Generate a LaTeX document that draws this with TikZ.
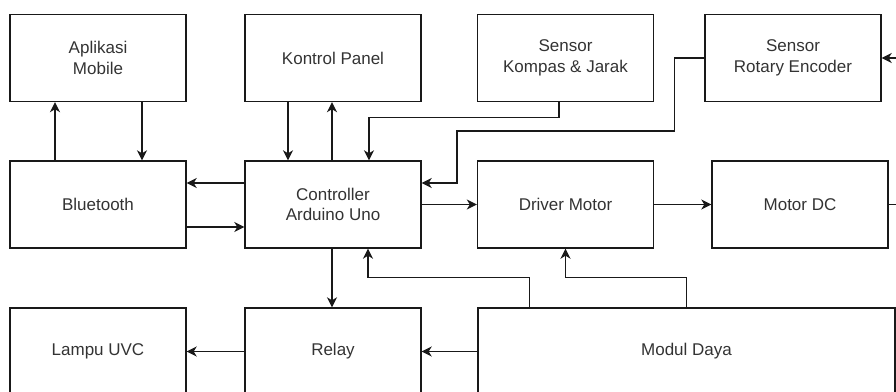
\documentclass[tikz,border=0pt]{standalone}
\usepackage{fontspec}
\setmainfont{Liberation Sans}
\usetikzlibrary{arrows.meta}
\begin{document}
\begin{tikzpicture}[x=1pt,y=-1pt,
  blk/.style={draw=black!90,line width=1.4pt,rectangle,minimum width=176pt,minimum height=87pt,
    align=center,inner sep=0pt,text=black!80,font=\fontsize{17}{20.5}\selectfont},
  con/.style={draw=black!90,line width=1.4pt},
  arr/.style={con,-{Stealth[length=10pt,width=10pt,inset=3pt]}}]
\useasboundingbox (0,0) rectangle (896,391);
\clip (0,0) rectangle (896,391);
% top row
\node[blk] (app) at (98,58) {Aplikasi\\Mobile};
\node[blk] (kp) at (333,58) {Kontrol Panel};
\node[blk] (skj) at (565.5,58) {Sensor\\Kompas \& Jarak};
\node[blk] (sre) at (793,58) {Sensor\\Rotary Encoder};
% middle row
\node[blk] (bt) at (98,204.5) {Bluetooth};
\node[blk] (ctl) at (333,204.5) {Controller\\Arduino Uno};
\node[blk] (drv) at (565.5,204.5) {Driver Motor};
\node[blk] (mdc) at (800,204.5) {Motor DC};
% bottom row
\node[blk] (lmp) at (98,351.5) {Lampu UVC};
\node[blk] (rly) at (333,351.5) {Relay};
\node[blk,minimum width=417pt] (mod) at (686.5,351.5) {Modul Daya};
% free ends
\coordinate (sreIn) at (896,58);
\coordinate (mdcOut) at (896,204.5);
% connectors
\draw[arr] ([xshift=-43pt]bt.north) -- ([xshift=-43pt]app.south);
\draw[arr] ([xshift=44pt]app.south) -- ([xshift=44pt]bt.north);
\draw[arr] ([yshift=21.5pt]ctl.west) -- ([yshift=21.5pt]bt.east);
\draw[arr] ([yshift=-22.5pt]bt.east) -- ([yshift=-22.5pt]ctl.west);
\draw[arr] ([xshift=-45pt]kp.south) -- ([xshift=-45pt]ctl.north);
\draw[arr] ([xshift=-1pt]ctl.north) -- ([xshift=-1pt]kp.south);
\draw[arr] ([xshift=-6.5pt]skj.south) -- ++(0,15) -| ([xshift=36pt]ctl.north);
\draw[arr] (sre.west) -- ++(-30,0) |- (457,131) |- ([yshift=21.5pt]ctl.east);
\draw[arr] (sreIn) -- (sre.east);
\draw[arr] (ctl.east) -- (drv.west);
\draw[arr] (drv.east) -- (mdc.west);
\draw[con] (mdc.east) -- (mdcOut);
\draw[arr] ([xshift=-1pt]ctl.south) -- ([xshift=-1pt]rly.north);
\draw[arr] ([xshift=52pt]mod.north west) -- ++(0,-30) -| ([xshift=35pt]ctl.south);
\draw[arr] ([xshift=209pt]mod.north west) -- ++(0,-30) -| (drv.south);
\draw[arr] (mod.west) -- (rly.east);
\draw[arr] (rly.west) -- (lmp.east);
\end{tikzpicture}
\end{document}
